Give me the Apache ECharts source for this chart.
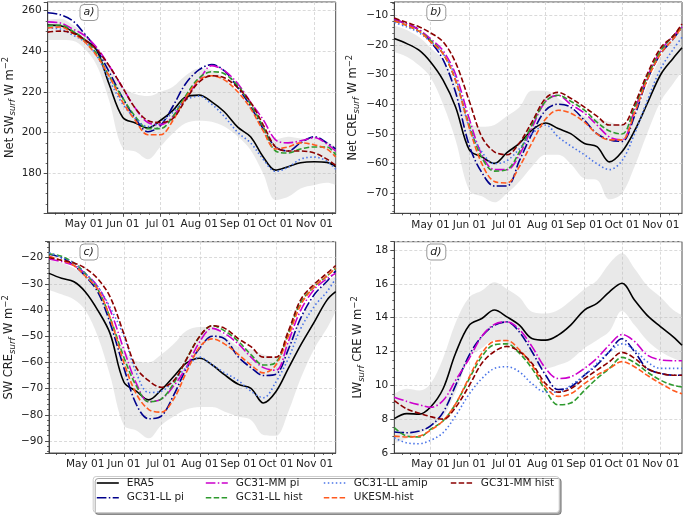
<!DOCTYPE html>
<html><head><meta charset="utf-8">
<script src="https://cdn.jsdelivr.net/npm/echarts@6/dist/echarts.min.js"></script>
<style>html,body{margin:0;padding:0;background:#fff}#c{width:685px;height:515px}</style>
</head><body><div id="c"></div>
<script>
// ---------- axis domain ----------
const MONTH_NAMES = ['Jan','Feb','Mar','Apr','May','Jun','Jul','Aug','Sep','Oct','Nov','Dec'];
const MINOR_TICK_DAYS = ['08','15','22'];
const DAYS = [];
for (let t = Date.UTC(2001,3,2); t <= Date.UTC(2001,10,18); t += 86400000) {
  const d = new Date(t);
  DAYS.push(String(d.getUTCMonth()+1).padStart(2,'0') + '-' + String(d.getUTCDate()).padStart(2,'0'));
}
// ---------- sample dates ----------
const DATES = ['04-02','04-12','04-22','05-01','05-11','05-21','06-01','06-11','06-21','07-01','07-11','07-21',
               '08-01','08-11','08-21','09-01','09-11','09-21','10-01','10-11','10-21','11-01','11-11','11-18'];
const SERIES_NAMES = ['ERA5','GC31-LL pi','GC31-MM pi','GC31-LL hist','GC31-LL amip','UKESM-hist','GC31-MM hist'];

// ---------- panel a: Net SW ----------
const A_ERA5     = [252.9,252.6,249.7,245.9,240.7,224,207.5,204.8,202.3,206,211,217.5,218.5,215.2,210.3,202.6,198,188.2,181.6,183.3,185.2,185.7,185.4,183.3];
const A_LL_PI    = [259,258,255,249,241,230,217,207,200.5,203.5,213,224,231,233.5,230.5,222,213,202,193,191,195,198,195,192];
const A_MM_PI    = [254.5,254,251,248,242,233,222,212,205,204,208,217,226,233,230.5,224,215,206.5,196.5,195,196,197.5,194.5,191];
const A_LL_HIST  = [252.5,253,250,246,239,228,217,208,202,202,208,218,227,230,229,223,214,203,191,190,192,193,193,189];
const A_LL_AMIP  = [251.5,251,248,245,238,226,214,207,203,205,210,216,218,214,208,200,195,187,181,183,187,188,186,182];
const A_UKESM    = [251.5,252,249,245,238,228,215,206,199,199,206,217,226,228,226,220,212,201,192,193,195,194,192,188];
const A_MM_HIST  = [249.5,250,249,246,241,233,222,212,206,205,207,216,225,228,227,222,215,204,193,191,191,190,187,184];
const A_BAND_HI  = [255.5,256,253,249,242,233,222.6,219,218,220,222.6,228,231.6,230.8,226.7,220,212.8,203.8,196.7,198,197.2,197,195.6,193.1];
const A_BAND_LO  = [245.6,245.6,245.2,241.5,233.3,216,192.3,190.7,186.9,193.1,199.7,204.6,205.9,205.4,203,198,191.5,180,166.9,168.5,172.6,174.3,175.4,174.3];

// ---------- panel b: Net CRE ----------
const B_ERA5     = [-17.9,-19.6,-21.9,-25.8,-31.9,-40.9,-55.4,-57.7,-59.9,-56.3,-53.2,-48.7,-46.3,-48.2,-49.9,-53.2,-54.3,-59.4,-56,-49,-40,-30,-24.5,-21];
const B_LL_PI    = [-11.5,-13,-15,-19,-25,-36,-54,-63,-67.5,-67.5,-59,-50,-42,-40,-41,-45.4,-49.9,-52,-52.5,-44,-32,-23,-18,-14];
const B_MM_PI    = [-11.5,-13,-15,-18,-22,-30,-45,-57,-62,-62,-57,-48,-39,-37,-40,-43,-47,-51,-52,-42,-31,-22,-17,-14];
const B_LL_HIST  = [-12,-13.5,-15.5,-18.5,-23,-32,-47,-58,-62.5,-62,-56,-47,-39,-37,-39,-42,-46,-49,-50,-41,-31,-22,-17,-14];
const B_LL_AMIP  = [-12.5,-14,-16,-19,-23,-31,-48,-56,-60,-59,-55,-50,-47,-51,-54,-57,-60,-62,-59,-50,-39,-28,-21.5,-17.5];
const B_UKESM    = [-12,-13.5,-15.5,-19,-23,-32,-48,-60,-66,-66.5,-61,-53,-45,-42,-43,-46,-50,-52,-52,-43,-32,-23,-18,-14];
const B_MM_HIST  = [-11,-12.5,-14,-16,-19,-26,-39,-51,-56,-57,-53,-46,-38,-36,-38,-41,-44,-47,-47,-40,-30,-21,-17,-13];
const B_BAND_HI  = [-13.5,-15,-17.5,-21,-25,-33,-46,-47.6,-47,-44,-41,-35.5,-35.5,-38,-41,-44,-45,-46,-47,-44,-34,-24,-18,-15];
const B_BAND_LO  = [-22.4,-24,-27,-31,-40,-52,-69,-71,-73,-70,-66,-61,-57,-57,-60,-65,-65.5,-72,-70,-61,-50,-39,-33,-29];

// ---------- panel c: SW CRE ----------
const C_ERA5     = [-26,-27.9,-29.2,-33,-40,-49,-67.5,-71,-74.3,-70.5,-65.4,-60.3,-58.4,-61,-64.8,-68.4,-69.9,-75.5,-71.2,-62.3,-53.3,-44.4,-36.2,-33];
const C_LL_PI    = [-18.7,-20,-23,-27,-33,-45,-62,-76,-81.5,-80.5,-72.5,-62.5,-54.5,-50,-51,-58,-62,-65,-64.5,-55,-43,-34,-29,-25];
const C_MM_PI    = [-20.5,-21.5,-23,-26,-31,-40,-55,-68,-75,-74,-69,-62,-52,-47,-49,-53,-58,-62,-63,-52,-40,-32,-28,-26];
const C_LL_HIST  = [-18.5,-19.5,-22,-26,-32,-43,-58,-69,-75,-74,-68,-59,-50,-46,-48,-52,-57,-61,-60,-49,-37,-31,-27,-24];
const C_LL_AMIP  = [-18,-20,-22,-26,-31,-39,-50,-64,-71.5,-71,-67,-62,-58,-61,-64,-67,-71,-73.5,-67.5,-58.5,-47,-38.5,-33,-28];
const C_UKESM    = [-19.5,-21,-23,-27,-32,-43,-60,-72,-78,-79,-74,-64,-54,-51,-53,-57,-61,-64,-61,-50,-38,-31,-27,-24];
const C_MM_HIST  = [-20,-21,-22,-24,-28,-35,-49,-62,-67,-69.5,-67,-59,-50,-46,-47,-51,-54,-58,-58,-48,-36,-30,-26,-23];
const C_BAND_HI  = [-21,-22,-24,-27,-33,-42,-55,-59.5,-60,-57,-53,-48,-46.5,-46.5,-50,-54,-55,-57,-58,-52,-43,-35,-29,-27];
const C_BAND_LO  = [-32.3,-34,-36,-40,-50,-65,-84,-86,-89,-84,-80.7,-78,-77,-77,-78.8,-80.7,-82,-87.7,-88,-78.8,-66,-54.6,-47,-40.6];

// ---------- panel d: LW CRE ----------
const D_ERA5     = [8.03,8.33,8.3,8.72,9.8,11.9,13.56,13.95,14.45,14.05,13.56,12.77,12.67,12.97,13.56,14.45,14.84,15.53,16.03,15.04,14.15,13.46,12.87,12.37];
const D_LL_PI    = [7.24,7.2,7.3,7.6,8.4,10.0,11.8,12.9,13.55,13.75,13.15,12.0,10.6,9.75,9.9,10.6,11.2,12.0,12.75,12.0,11.0,10.7,10.6,10.6];
const D_MM_PI    = [9.3,9.05,8.85,8.7,9.1,10.3,11.6,12.9,13.6,13.75,13.3,12.3,11.0,10.4,10.5,11.0,11.6,12.4,13.0,12.6,11.8,11.5,11.45,11.45];
const D_LL_HIST  = [7.5,7.0,6.95,7.4,7.9,8.9,10.4,11.7,12.4,12.45,11.9,11.0,9.7,8.85,8.95,9.7,10.4,11.0,11.65,11.35,10.8,10.3,10.0,9.9];
const D_LL_AMIP  = [6.9,6.6,6.55,6.75,7.2,8.2,9.5,10.4,11.0,11.1,10.8,10.1,9.6,9.6,10.0,10.6,11.3,12.0,12.45,12.1,11.4,11.0,11.0,11.0];
const D_UKESM    = [7.0,6.95,7.0,7.35,7.9,8.9,10.5,11.9,12.6,12.65,12.1,11.2,9.9,9.35,9.5,10.1,10.6,11.0,11.4,11.1,10.6,10.1,9.7,9.5];
const D_MM_HIST  = [9.1,8.6,8.35,8.15,8.0,8.7,10.0,11.3,12.0,12.3,12.0,11.3,10.1,9.6,9.8,10.4,10.9,11.4,11.95,11.6,11.0,10.7,10.6,10.6];
const D_BAND_HI  = [9.5,9.8,9.7,10.1,11.6,13.7,15.2,15.6,16.1,15.7,15.2,14.35,14.25,14.45,15.0,15.7,16.2,17.2,17.8,16.9,15.9,15.2,14.45,14.15];
const D_BAND_LO  = [6.55,6.85,7.15,7.54,8.13,9.6,11.6,12.2,12.67,12.5,12.0,11.3,11.0,11.2,11.5,12.2,12.67,13.2,14.4,13.56,12.67,12.0,11.6,11.4];

// ---------- styles ----------
const FONT = 'DejaVu Sans';
const COLORS = ['#000000','#00008b','#cc00cc','#2e9a2e','#4a74e8','#ff5a1f','#8b0000'];
const DASH = {
  solid: 'solid',
  dashdot: [9.6,2.4,1.5,2.4],
  dashed: [5.5,2.4],
  dotted: [1.5,2.5]
};
const LINE_TYPES = [DASH.solid, DASH.dashdot, DASH.dashdot, DASH.dashed, DASH.dotted, DASH.dashed, DASH.dashed];

const PANELS = [
  {label:'a)', lines:[A_ERA5,A_LL_PI,A_MM_PI,A_LL_HIST,A_LL_AMIP,A_UKESM,A_MM_HIST], lo:A_BAND_LO, hi:A_BAND_HI,
   grid:{left:47.7, top:2, width:288, height:210.8}, ymin:160.6, ymax:264.3, split:5, minor:4, nameGap:30,
   yname:'{t|Net SW}{s|surf}{t| W m}{p|−2}', box:[79.5,4]},
  {label:'b)', lines:[B_ERA5,B_LL_PI,B_MM_PI,B_LL_HIST,B_LL_AMIP,B_UKESM,B_MM_HIST], lo:B_BAND_LO, hi:B_BAND_HI,
   grid:{left:394.3, top:2, width:287.7, height:211.3}, ymin:-76.7, ymax:-5.6, split:7, minor:5, nameGap:33,
   yname:'{t|Net CRE}{s|surf}{t| W m}{p|−2}', box:[426.3,4]},
  {label:'c)', lines:[C_ERA5,C_LL_PI,C_MM_PI,C_LL_HIST,C_LL_AMIP,C_UKESM,C_MM_HIST], lo:C_BAND_LO, hi:C_BAND_HI,
   grid:{left:47.7, top:241.7, width:288, height:211.3}, ymin:-94.6, ymax:-13.9, split:8, minor:5, nameGap:30,
   yname:'{t|SW CRE}{s|surf}{t| W m}{p|−2}', box:[79.5,243.5]},
  {label:'d)', lines:[D_ERA5,D_LL_PI,D_MM_PI,D_LL_HIST,D_LL_AMIP,D_UKESM,D_MM_HIST], lo:D_BAND_LO, hi:D_BAND_HI,
   grid:{left:394.3, top:241.7, width:287.7, height:211.3}, ymin:6, ymax:18.49, split:6, minor:4, nameGap:28,
   yname:'{t|LW}{s|surf}{t| CRE W m}{p|−2}', box:[426.3,243.5]}
];

const pairs = (ys) => DATES.map((d,i) => [d, ys[i]]);
const isMonthStart = (idx, v) => v.slice(3) === '01';
const isMinor = (idx, v) => MINOR_TICK_DAYS.includes(v.slice(3));
const AX = '#3a3a3a';

const grids = [], xAxes = [], yAxes = [], series = [], titles = [];
PANELS.forEach((p, i) => {
  grids.push(Object.assign({show:true, borderColor:AX, borderWidth:0.9, backgroundColor:'transparent'}, p.grid));
  xAxes.push({
    type:'category', gridIndex:i, data:DAYS, boundaryGap:false, position:'bottom',
    axisLine:{show:true, lineStyle:{color:AX, width:0.9}},
    axisTick:{show:true, interval:isMonthStart, length:4, lineStyle:{color:AX, width:0.9}},
    axisLabel:{show:true, interval:isMonthStart, margin:6, fontFamily:FONT, fontSize:10.5, color:'#222',
      formatter:(v) => MONTH_NAMES[parseInt(v.slice(0,2),10)-1] + ' ' + v.slice(3)},
    splitLine:{show:true, interval:isMonthStart, lineStyle:{color:'#d0d0d0', type:[3,2], width:0.8}}
  });
  yAxes.push({
    type:'value', gridIndex:i, min:p.ymin, max:p.ymax, splitNumber:p.split,
    name:p.yname, nameLocation:'middle', nameRotate:90, nameGap:p.nameGap,
    nameTextStyle:{rich:{
      t:{fontFamily:FONT, fontSize:11.5, color:'#222'},
      s:{fontFamily:FONT, fontSize:8.5, fontStyle:'italic', color:'#222', padding:[7,0,0,0]},
      p:{fontFamily:FONT, fontSize:8.5, color:'#222', padding:[0,0,7,0]}
    }},
    axisLine:{show:true, lineStyle:{color:AX, width:0.9}},
    axisTick:{show:true, length:4, lineStyle:{color:AX, width:0.9}},
    minorTick:{show:true, splitNumber:p.minor, length:2, lineStyle:{color:AX, width:0.8}},
    axisLabel:{fontFamily:FONT, fontSize:10.5, color:'#222', margin:6, showMinLabel:(i===3), showMaxLabel:false,
      formatter:(v) => String(v).replace('-', '\u2212')},
    splitLine:{show:true, lineStyle:{color:'#d0d0d0', type:[3,2], width:0.8}}
  });
  // band: lower edge + stacked thickness
  series.push({
    name:'band-lo-'+i, type:'line', xAxisIndex:i, yAxisIndex:i, data:pairs(p.lo), stack:'band'+i, stackStrategy:'all',
    smooth:0.35, symbol:'none', lineStyle:{opacity:0}, silent:true, z:1
  });
  series.push({
    name:'band-hi-'+i, type:'line', xAxisIndex:i, yAxisIndex:i, stack:'band'+i, stackStrategy:'all',
    data:DATES.map((d,k) => [d, p.hi[k] - p.lo[k]]),
    smooth:0.35, symbol:'none', lineStyle:{opacity:0}, areaStyle:{color:'rgba(185,185,185,0.45)'}, silent:true, z:1
  });
  p.lines.forEach((ys, k) => {
    series.push({
      name:SERIES_NAMES[k], type:'line', xAxisIndex:i, yAxisIndex:i, data:pairs(ys),
      smooth:0.35, symbol:'none', z:3,
      lineStyle:{color:COLORS[k], width:1.6, type:LINE_TYPES[k]},
      itemStyle:{color:COLORS[k]}
    });
  });
  titles.push({
    text:p.label, left:p.box[0], top:p.box[1], padding:[3,4,3,4],
    borderColor:'#999', borderWidth:1, borderRadius:4, backgroundColor:'#fff',
    textStyle:{fontFamily:FONT, fontSize:11, fontStyle:'italic', fontWeight:'normal', color:'#222'}
  });
});
// minor x ticks (separate tick-only axes)
PANELS.forEach((p, i) => {
  xAxes.push({
    type:'category', gridIndex:i, data:DAYS, boundaryGap:false, position:'bottom',
    axisLine:{show:false}, axisLabel:{show:false}, splitLine:{show:false},
    axisTick:{show:true, interval:isMinor, length:2, lineStyle:{color:AX, width:0.8}}
  });
});

const LEGEND_COLS = [
  {names:['ERA5','GC31-LL pi'], left:96},
  {names:['GC31-MM pi','GC31-LL hist'], left:205},
  {names:['GC31-LL amip','UKESM-hist'], left:323},
  {names:['GC31-MM hist'], left:450}
];
const legends = LEGEND_COLS.map(c => ({
  data:c.names, left:c.left, top:477.5, orient:'vertical', itemWidth:22, itemHeight:12, itemGap:3.7,
  padding:0, selectedMode:false,
  itemStyle:{opacity:0},
  lineStyle:{width:1.6},
  textStyle:{fontFamily:FONT, fontSize:10.5, color:'#222', padding:[0,0,0,3]}
}));

const chart = echarts.init(document.getElementById('c'), null, {renderer:'canvas'});
chart.setOption({
  animation:false,
  backgroundColor:'#fff',
  title:titles,
  grid:grids, xAxis:xAxes, yAxis:yAxes, series:series,
  legend:legends,
  graphic:[{
    type:'rect', left:92.7, top:476, z:-1,
    shape:{width:466, height:36, r:3},
    style:{fill:'#fff', stroke:'#cccccc', lineWidth:1, shadowColor:'rgba(0,0,0,0.35)', shadowOffsetX:2, shadowOffsetY:2, shadowBlur:0}
  }]
});
</script></body></html>
